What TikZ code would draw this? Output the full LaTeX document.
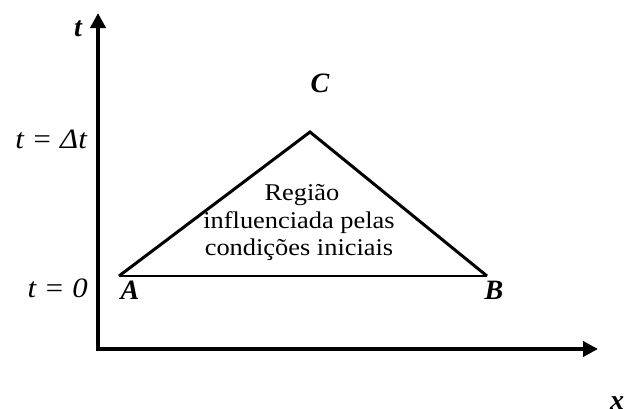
\documentclass[tikz,border=0pt]{standalone}
\usepackage{fontspec}
\setmainfont{Liberation Serif}
\usetikzlibrary{arrows.meta}
\begin{document}
\begin{tikzpicture}[x=1pt,y=-1pt,
  axis/.style={line width=4pt,-{Triangle[length=15pt,width=15pt]}},
  side/.style={line width=3pt,line join=miter},
  base/.style={line width=1.8pt},
  lab/.style={inner sep=0pt,font=\fontsize{28}{32}\selectfont\bfseries\itshape},
  tlab/.style={inner sep=0pt,font=\fontsize{28}{32}\selectfont\itshape},
  region/.style={inner sep=0pt,align=center,font=\fontsize{24}{27.5}\selectfont}]
\useasboundingbox (0,0) rectangle (624,408);
\coordinate (O) at (98,349);
\coordinate (T) at (98,13);
\coordinate (X) at (598,349);
\coordinate (A) at (119,276);
\coordinate (B) at (487,276);
\coordinate (C) at (310,132);
\draw[axis] (O) -- (T);
\draw[axis] ([xshift=-2pt]O) -- (X);
\draw[base] (A) -- (B);
\draw[side] (A) -- (C) -- (B);
\node[lab] (tl) at (78,29) {t};
\node[lab] (xl) at (617,403) {x};
\node[lab] (Cl) at (320,83) {C};
\node[lab] (Al) at (130,290) {A};
\node[lab] (Bl) at (494,290) {B};
\node[tlab,anchor=base east] (t1) at (87,148) {\scalebox{1.1}[1]{t = Δt}};
\node[tlab,anchor=base east] (t0) at (88,297) {\scalebox{1.1}[1]{t = 0}};
\node[region,anchor=base] (r) at (299,228) {\scalebox{1.1}[1]{influenciada pelas}};
\node[region,anchor=base] (r1) at (302,200) {\scalebox{1.1}[1]{Região}};
\node[region,anchor=base] (r2) at (299,255) {\scalebox{1.1}[1]{condições iniciais}};
\end{tikzpicture}
\end{document}
